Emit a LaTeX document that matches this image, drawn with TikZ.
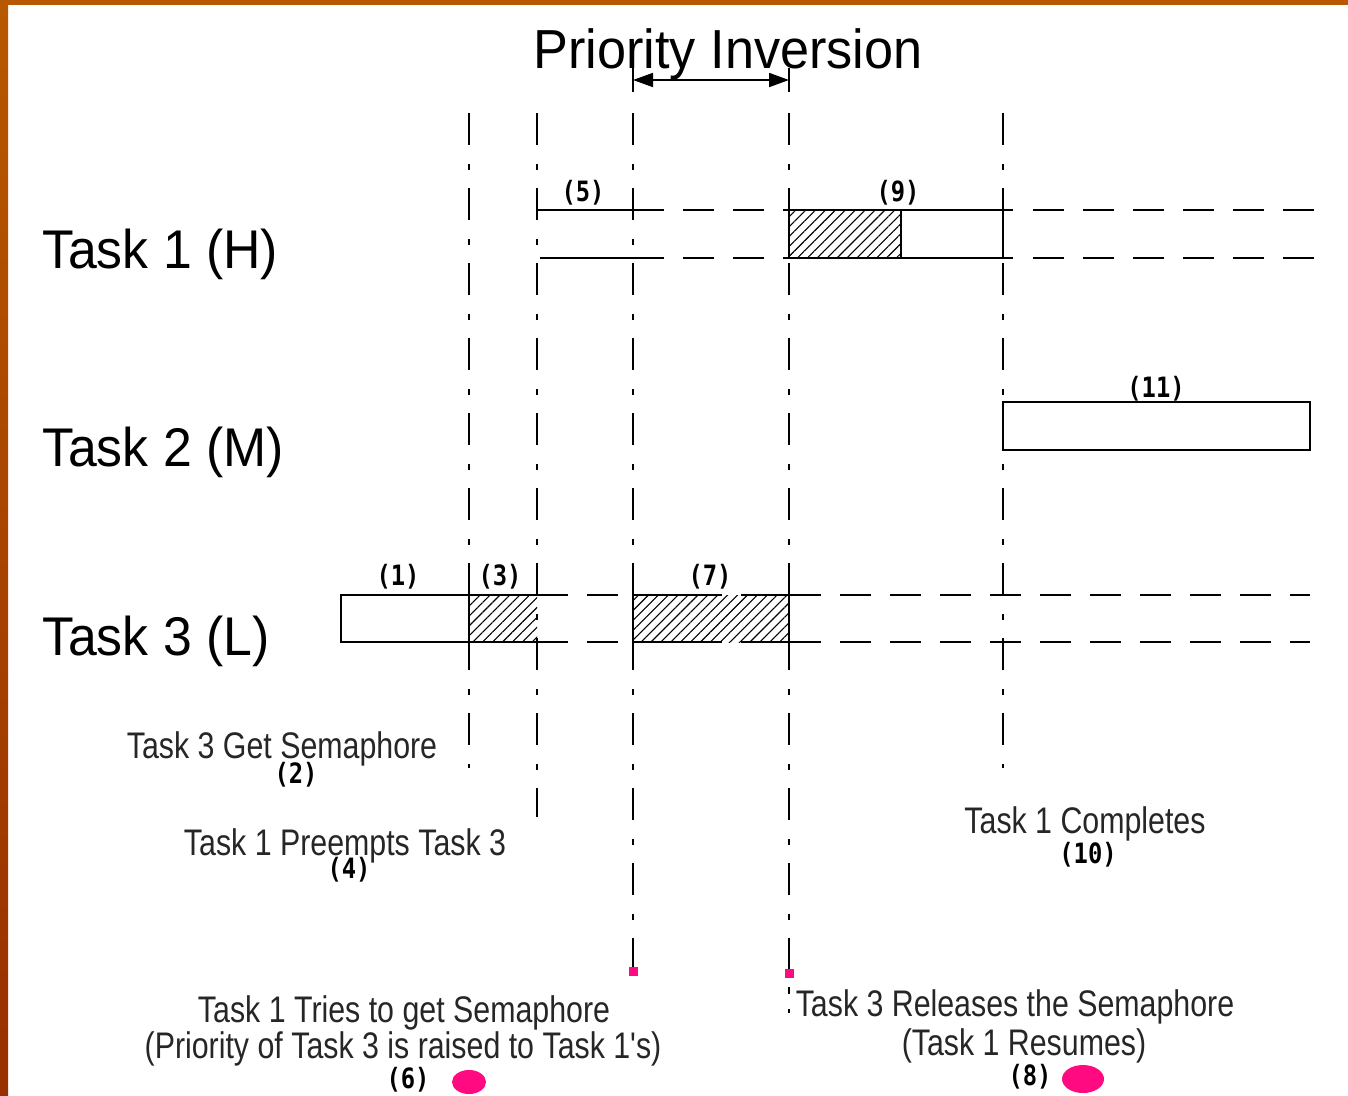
\documentclass[tikz,border=0pt]{standalone}
\usepackage{fontspec}
\usetikzlibrary{patterns.meta,arrows.meta}
\newfontfamily\labelfont[FakeStretch=0.95]{Liberation Sans}
\newfontfamily\notefont[FakeStretch=0.82]{Liberation Sans}
\newfontfamily\stepfont[FakeStretch=0.85]{DejaVu Sans Mono}
\definecolor{rim}{HTML}{B85800}
\definecolor{rimdark}{HTML}{983000}
\definecolor{marker}{HTML}{FF0A80}
\begin{document}
\begin{tikzpicture}[x=1pt,y=-1pt,
  guide/.style={line width=1.8pt, dash pattern=on 32pt off 19pt on 6pt off 18pt},
  track/.style={line width=1.8pt, dash pattern=on 31pt off 19pt},
  slot/.style={line width=1.8pt},
  hatch/.style={pattern={Lines[angle=45,distance=7pt,line width=1.1pt]}},
  tasklabel/.style={font=\labelfont\fontsize{54.5}{60}\selectfont, anchor=base west, inner sep=0pt},
  note/.style={font=\notefont\fontsize{37}{40}\selectfont, text=black!85, anchor=base, inner sep=0pt},
  stepno/.style={font=\stepfont\bfseries\fontsize{28}{30}\selectfont, anchor=base, inner sep=0pt},
  span/.style={line width=1.8pt, {Triangle[length=20pt,width=14pt]}-{Triangle[length=20pt,width=14pt]}}
]
\useasboundingbox (0,0) rectangle (1348,1095);
\fill[white] (0,0) rectangle (1348,1095);
% frame of the slide
\fill[rim] (0,0) rectangle (1348,5);
\shade[top color=rim, bottom color=rimdark] (0,0) rectangle (8,1095);

% time instants (dash-dot guides)
\foreach \x/\e in {469/768, 537/817, 1003/768}
  \draw[guide] (\x,113) -- (\x,\e);
\draw[guide] (633,113) -- (633,971);
\draw[guide] (789,113) -- (789,973);
\draw[slot] (633,68) -- (633,92);
\draw[slot] (789,68) -- (789,92);
\draw[line width=1.5pt] (789,987) -- (789,994);
\draw[line width=1.5pt] (789,1009) -- (789,1013);

% title and inversion interval
\node[font=\labelfont\fontsize{55}{60}\selectfont, anchor=base, inner sep=0pt] (title) at (728,68) {Priority Inversion};
\coordinate (inv-start) at (633,80);
\coordinate (inv-end) at (789,80);
\draw[span] (inv-start) -- (inv-end);

% Task 1 (H)
\draw[slot] (537,210) -- (633,210);
\draw[slot] (540,258) -- (633,258);
\draw[track] (633,210) -- (789,210);
\draw[track] (633,258) -- (789,258);
\fill[hatch] (789,210) rectangle (901,258);
\draw[slot] (789,210) rectangle (1003,258);
\draw[slot] (901,210) -- (901,258);
\draw[slot] (1003,210) -- (1013,210);
\draw[slot] (1003,258) -- (1013,258);
\draw[track] (1033,210) -- (1315,210);
\draw[track] (1033,258) -- (1315,258);

% Task 2 (M)
\draw[slot] (1003,402) rectangle (1310,450);

% Task 3 (L)
\fill[hatch] (469,595) rectangle (537,642);
\draw[slot] (537,595) -| (341,642) -- (537,642);
\draw[slot] (469,595) -- (469,642);
\draw[track] (537,595) -- (633,595);
\draw[track] (537,642) -- (633,642);
\fill[hatch] (633,595) rectangle (789,642);
\draw[slot] (633,595) -- (633,642);
\draw[slot] (789,595) -- (789,642);
\draw[slot] (633,595) -- (722,595);
\draw[slot] (741,595) -- (789,595);
\draw[slot] (633,642) -- (722,642);
\draw[slot] (741,642) -- (789,642);
\draw[track] (790,595) -- (1310,595);
\draw[track] (790,642) -- (1310,642);

% row labels
\node[tasklabel] (task1) at (42,268) {Task 1 (H)};
\node[tasklabel] (task2) at (42,466) {Task 2 (M)};
\node[tasklabel] (task3) at (42,655) {Task 3 (L)};

% segment numbers
\node[stepno] (s5) at (583,201) {(5)};
\node[stepno] (s9) at (898,201) {(9)};
\node[stepno] (s11) at (1156,397) {(11)};
\node[stepno] (s1) at (398,585) {(1)};
\node[stepno] (s3) at (500,585) {(3)};
\node[stepno] (s7) at (710,585) {(7)};

% event notes
\node[note] (n2) at (282,758) {Task 3 Get Semaphore};
\node[stepno] (s2) at (296,783) {(2)};
\node[note] (n4) at (345,855) {Task 1 Preempts Task 3};
\node[stepno] (s4) at (349,878) {(4)};
\node[note] (n10) at (1085,833) {Task 1 Completes};
\node[stepno] (s10) at (1088,863) {(10)};
\node[note] (n6a) at (404,1022) {Task 1 Tries to get Semaphore};
\node[note] (n6b) at (403,1058) {(Priority of Task 3 is raised to Task 1's)};
\node[stepno] (s6) at (408,1088) {(6)};
\node[note] (n8a) at (1015,1016) {Task 3 Releases the Semaphore};
\node[note] (n8b) at (1024,1055) {(Task 1 Resumes)};
\node[stepno] (s8) at (1030,1085) {(8)};

% event markers
\fill[marker] (628.5,966.5) rectangle (637.5,975.5);
\fill[marker] (784.5,968.5) rectangle (793.5,977.5);
\fill[marker] (469,1082) ellipse [x radius=17pt, y radius=12pt];
\fill[marker] (1083,1079) ellipse [x radius=21pt, y radius=14pt];
\end{tikzpicture}
\end{document}
